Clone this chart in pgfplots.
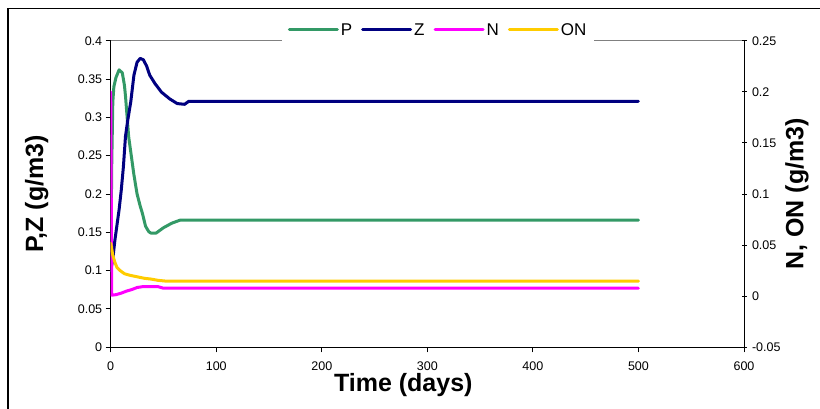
\documentclass[border=0pt]{standalone}
\usepackage{fontspec}
\setmainfont{Liberation Sans}
\usepackage{pgfplots}
\pgfplotsset{compat=1.18}

\definecolor{cP}{RGB}{51,153,102}
\definecolor{cZ}{RGB}{0,0,128}
\definecolor{cN}{RGB}{255,0,255}
\definecolor{cON}{RGB}{255,204,0}

\pgfplotsset{common/.style={
  width=633.3pt, height=306.6pt, scale only axis,
  xmin=0, xmax=600,
  tick label style={font=\fontsize{12.5}{14}\selectfont},
  /pgf/number format/assume math mode=true,
  /pgf/number format/fixed,
  /pgf/number format/precision=2,
  axis line style={black, line width=1pt},
  tick style={black, line width=1pt},
  major tick length=5pt,
  label style={font=\bfseries\fontsize{25}{29}\selectfont},
  every axis plot/.append style={line width=3pt, line join=round, line cap=round, no markers},
}}

\begin{document}
\begin{tikzpicture}[x=1pt,y=1pt]
% left axis: phytoplankton and zooplankton
\begin{axis}[common, name=ax1,
  ymin=0, ymax=0.4,
  xtick={0,100,200,300,400,500,600},
  ytick={0,0.05,0.1,0.15,0.2,0.25,0.3,0.35,0.4},
  xtick pos=left, ytick pos=left,
  tick align=outside,
  xticklabel style={yshift=-6pt},
  xlabel={Time (days)}, ylabel={P,Z (g/m3)},
  xlabel style={at={(axis description cs:0.462,-0.124)}, anchor=center},
  ylabel style={at={(axis description cs:-0.117,0.5)}, anchor=center},
]
\addplot[cP] coordinates {
 (0,0.100) (1,0.240) (2,0.320) (3,0.340) (5,0.352) (8,0.362) (11,0.358)
 (13,0.342) (14,0.328) (17,0.275) (20,0.245) (22,0.225) (25,0.200)
 (28,0.184) (30,0.175) (33,0.158) (36,0.151) (38,0.149) (43,0.149)
 (50,0.156) (58,0.162) (66,0.166) (500,0.166)
};
\addplot[cZ] coordinates {
 (0,0.100) (2,0.115) (4,0.140) (6,0.160) (8,0.180) (10,0.205) (12,0.235)
 (14,0.275) (16,0.295) (19,0.320) (22,0.355) (25,0.372) (28,0.377)
 (31,0.375) (34,0.367) (37,0.355) (42,0.344) (48,0.333) (56,0.324)
 (63,0.318) (70,0.317) (74,0.321) (500,0.321)
};
% grey top edge of the plot area
\draw[gray, line width=1.2pt] (rel axis cs:0,1) -- (rel axis cs:1,1);
\end{axis}

% right axis: nutrients and organic nitrogen
\begin{axis}[common, at={(ax1.south west)}, anchor=south west,
  ymin=-0.05, ymax=0.25,
  ytick={-0.05,0,0.05,0.1,0.15,0.2,0.25},
  axis y line*=right, axis x line=none,
  tick align=center,
  yticklabel style={xshift=2pt},
  ylabel={N, ON (g/m3)},
  ylabel style={at={(axis description cs:1.0837,0.5)}, anchor=center},
  legend columns=4,
  legend style={at={(axis description cs:0.517,1.035)}, anchor=center,
    draw=none, fill=white, font=\fontsize{17}{20}\selectfont,
    inner xsep=6pt, inner ysep=4pt,
    /tikz/every even column/.append style={column sep=7pt}},
  legend image code/.code={\draw[#1] (0pt,0pt) -- (48pt,0pt);},
]
\addlegendimage{cP, line width=3pt}\addlegendentry{P}
\addlegendimage{cZ, line width=3pt}\addlegendentry{Z}
\addplot[cN] coordinates {
 (0,0.200) (1,0.001) (5,0.0015) (10,0.003) (15,0.005) (20,0.0065)
 (25,0.0085) (30,0.0093) (45,0.0093) (50,0.0078) (500,0.0078)
};
\addlegendentry{N}
\addplot[cON] coordinates {
 (0,0.052) (2,0.040) (4,0.033) (6,0.028) (9,0.025) (13,0.022) (18,0.0205)
 (25,0.019) (32,0.0175) (38,0.0168) (45,0.0155) (52,0.0148) (500,0.0148)
};
\addlegendentry{ON}
\end{axis}
% outer chart-area frame, measured from the plot area's lower-left corner
\draw[line width=1.6pt, shift={(ax1.south west)}]
  (-102.4,-80) -- (-102.4,338.8) -- (720,338.8);
% the page is exactly the chart area
\pgfresetboundingbox
\path[use as bounding box, shift={(ax1.south west)}]
  (-110.7,-60.7) rectangle (709.3,347.3);
\end{tikzpicture}
\end{document}
